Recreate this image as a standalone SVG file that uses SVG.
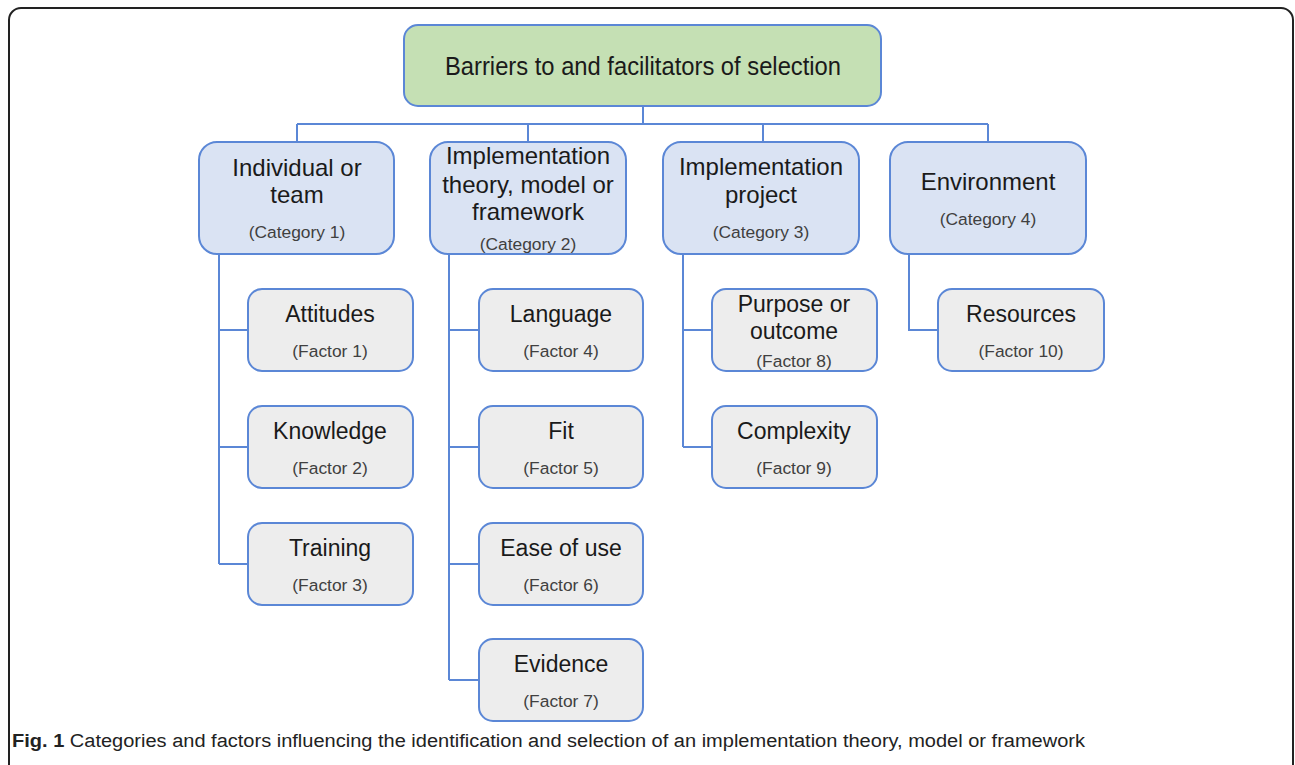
<svg xmlns="http://www.w3.org/2000/svg" width="1295" height="765" viewBox="0 0 1295 765">
<style>
.frame{fill:none;stroke:#222;stroke-width:2}
.root{fill:#c5e0b4;stroke:#5b87d6;stroke-width:2}
.cat{fill:#dae3f3;stroke:#5b87d6;stroke-width:2}
.fac{fill:#ededed;stroke:#5b87d6;stroke-width:2}
.con{fill:none;stroke:#5b87d6;stroke-width:2}
text{font-family:"Liberation Sans",Arial,sans-serif;text-anchor:middle;fill:#1a1a1a}
.t1{font-size:25px}
.t2{font-size:24px}
.t3{font-size:23px}
.s{font-size:17.4px;fill:#404040}
.cap{font-size:18px;text-anchor:start;fill:#222}
</style>
<rect class="frame" x="9" y="8" width="1284" height="800" rx="12"/>
<g id="connectors">
<path class="con" d="M643 106V124M297 124H988M297 124V142M528 124V142M763 124V142M988 124V142"/>
<path class="con" d="M219 254V564M219 330H248M219 447H248M219 564H248"/>
<path class="con" d="M449 254V680M449 330H479M449 447H479M449 564H479M449 680H479"/>
<path class="con" d="M683 254V447M683 330H712M683 447H712"/>
<path class="con" d="M909 254V330H938"/>
</g>
<g id="root"><rect class="root" x="404" y="25" width="477" height="81" rx="14"/><text class="t1" x="643" y="75" textLength="396" lengthAdjust="spacingAndGlyphs">Barriers to and facilitators of selection</text></g>
<g id="cat1"><rect class="cat" x="199" y="142" width="195" height="112" rx="18"/><text class="t2" x="297" y="176">Individual or</text><text class="t2" x="297" y="203">team</text><text class="s" x="297" y="238">(Category 1)</text></g>
<g id="cat2"><rect class="cat" x="430" y="142" width="196" height="112" rx="18"/><text class="t2" x="528" y="164">Implementation</text><text class="t2" x="528" y="193">theory, model or</text><text class="t2" x="528" y="220">framework</text><text class="s" x="528" y="250">(Category 2)</text></g>
<g id="cat3"><rect class="cat" x="663" y="142" width="196" height="112" rx="18"/><text class="t2" x="761" y="175">Implementation</text><text class="t2" x="761" y="203">project</text><text class="s" x="761" y="238">(Category 3)</text></g>
<g id="cat4"><rect class="cat" x="890" y="142" width="196" height="112" rx="18"/><text class="t2" x="988" y="190">Environment</text><text class="s" x="988" y="225">(Category 4)</text></g>
<g id="f1"><rect class="fac" x="248" y="289" width="165" height="82" rx="14"/><text class="t3" x="330" y="322">Attitudes</text><text class="s" x="330" y="357">(Factor 1)</text></g>
<g id="f2"><rect class="fac" x="248" y="406" width="165" height="82" rx="14"/><text class="t3" x="330" y="439">Knowledge</text><text class="s" x="330" y="474">(Factor 2)</text></g>
<g id="f3"><rect class="fac" x="248" y="523" width="165" height="82" rx="14"/><text class="t3" x="330" y="556">Training</text><text class="s" x="330" y="591">(Factor 3)</text></g>
<g id="f4"><rect class="fac" x="479" y="289" width="164" height="82" rx="14"/><text class="t3" x="561" y="322">Language</text><text class="s" x="561" y="357">(Factor 4)</text></g>
<g id="f5"><rect class="fac" x="479" y="406" width="164" height="82" rx="14"/><text class="t3" x="561" y="439">Fit</text><text class="s" x="561" y="474">(Factor 5)</text></g>
<g id="f6"><rect class="fac" x="479" y="523" width="164" height="82" rx="14"/><text class="t3" x="561" y="556">Ease of use</text><text class="s" x="561" y="591">(Factor 6)</text></g>
<g id="f7"><rect class="fac" x="479" y="639" width="164" height="82" rx="14"/><text class="t3" x="561" y="672">Evidence</text><text class="s" x="561" y="707">(Factor 7)</text></g>
<g id="f8"><rect class="fac" x="712" y="289" width="165" height="82" rx="14"/><text class="t3" x="794" y="312">Purpose or</text><text class="t3" x="794" y="339">outcome</text><text class="s" x="794" y="367">(Factor 8)</text></g>
<g id="f9"><rect class="fac" x="712" y="406" width="165" height="82" rx="14"/><text class="t3" x="794" y="439">Complexity</text><text class="s" x="794" y="474">(Factor 9)</text></g>
<g id="f10"><rect class="fac" x="938" y="289" width="166" height="82" rx="14"/><text class="t3" x="1021" y="322">Resources</text><text class="s" x="1021" y="357">(Factor 10)</text></g>
<text class="cap" x="12" y="747" textLength="1073" lengthAdjust="spacingAndGlyphs"><tspan font-weight="bold">Fig. 1</tspan> Categories and factors influencing the identification and selection of an implementation theory, model or framework</text>
</svg>
